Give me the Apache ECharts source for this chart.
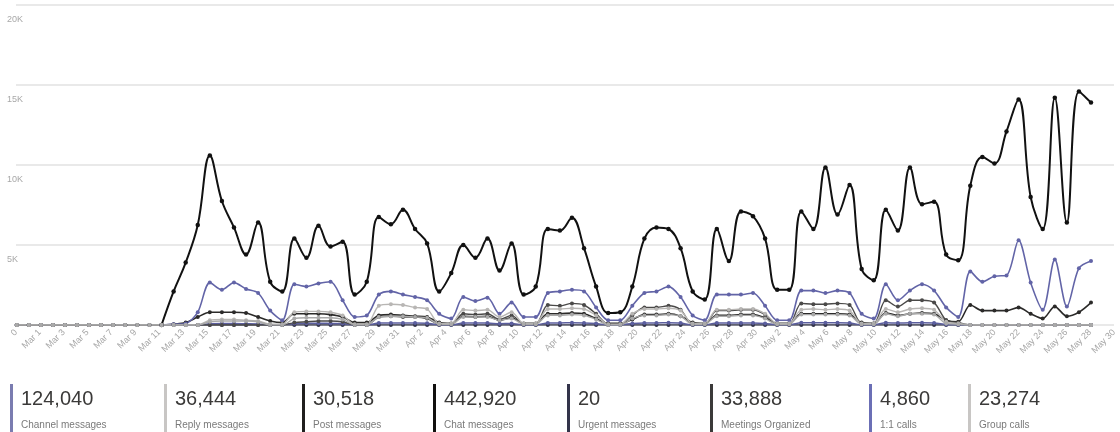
<!DOCTYPE html>
<html>
<head>
<meta charset="utf-8">
<script src="https://cdn.jsdelivr.net/npm/echarts@6/dist/echarts.min.js"></script>
<style>
html,body{margin:0;padding:0;background:#fff;}
#chart{width:1120px;height:432px;}
</style>
</head>
<body>
<div id="chart"></div>
<script>
// Data-point dates (one per point)
const dates = ['Feb 29','Mar 1','Mar 2','Mar 3','Mar 4','Mar 5','Mar 6','Mar 7','Mar 8','Mar 9','Mar 10','Mar 11','Mar 12','Mar 13','Mar 14','Mar 15','Mar 16','Mar 17','Mar 18','Mar 19','Mar 20','Mar 21','Mar 22','Mar 23','Mar 24','Mar 25','Mar 26','Mar 27','Mar 28','Mar 29','Mar 30','Mar 31','Apr 1','Apr 2','Apr 3','Apr 4','Apr 5','Apr 6','Apr 7','Apr 8','Apr 9','Apr 10','Apr 11','Apr 12','Apr 13','Apr 14','Apr 15','Apr 16','Apr 17','Apr 18','Apr 19','Apr 20','Apr 21','Apr 22','Apr 23','Apr 24','Apr 25','Apr 26','Apr 27','Apr 28','Apr 29','Apr 30','May 1','May 2','May 3','May 4','May 5','May 6','May 7','May 8','May 9','May 10','May 11','May 12','May 13','May 14','May 15','May 16','May 17','May 18','May 19','May 20','May 21','May 22','May 23','May 24','May 25','May 26','May 27','May 28'];

// Tick labels shown under the axis
const tickLabels = ['0','Mar 1','Mar 3','Mar 5','Mar 7','Mar 9','Mar 11','Mar 13','Mar 15','Mar 17','Mar 19','Mar 21','Mar 23','Mar 25','Mar 27','Mar 29','Mar 31','Apr 2','Apr 4','Apr 6','Apr 8','Apr 10','Apr 12','Apr 14','Apr 16','Apr 18','Apr 20','Apr 22','Apr 24','Apr 26','Apr 28','Apr 30','May 2','May 4','May 6','May 8','May 10','May 12','May 14','May 16','May 18','May 20','May 22','May 24','May 26','May 28','May 30'];

const yTicks = [0, 5000, 10000, 15000, 20000];

const chatMessages = [null,null,null,null,null,null,null,null,null,null,null,null,0,2100,3900,6250,10600,7750,6100,4400,6400,2700,2100,5400,4200,6200,4900,5200,1900,2700,6750,6300,7200,6000,5100,2100,3250,5000,4200,5400,3400,5100,1900,2400,6000,5900,6700,4800,2400,750,800,2400,5400,6100,6000,4800,2100,1600,6000,4000,7100,6800,5400,2200,2200,7100,6000,9850,6900,8750,3500,2800,7200,5900,9850,7550,7700,4400,4050,8700,10500,10100,12100,14100,8000,6000,14200,6400,14600,13900];

const channelMessages = [null,null,null,null,null,null,null,null,null,null,null,null,0,50,100,800,2650,2200,2650,2250,2000,900,300,2550,2400,2600,2700,1550,500,600,1900,2100,1900,1750,1550,700,400,1750,1500,1700,700,1400,500,500,2000,2100,2200,2100,1100,300,300,1200,2000,2100,2400,1750,600,300,1900,1900,1900,2000,1200,300,300,2150,2150,2000,2150,2000,700,400,2550,1550,2150,2550,2150,1100,500,3350,2700,3050,3100,5300,2650,950,4100,1150,3550,4000];

const meetingsOrganized = [0,0,0,0,0,0,0,0,0,0,0,0,0,50,150,500,800,800,800,750,500,250,150,700,700,700,650,500,150,150,600,650,600,550,500,150,100,550,500,550,300,450,100,100,700,700,750,700,400,100,100,350,650,650,700,550,150,100,600,600,650,650,450,100,100,700,700,700,700,650,150,100,750,600,700,750,700,300,200,1250,900,900,900,1100,700,400,1150,550,800,1400];

const postMessages = [0,0,0,0,0,0,0,0,0,0,0,0,0,0,0,0,0,0,0,0,0,0,0,150,200,250,250,200,0,0,500,550,500,500,400,50,50,700,650,700,350,600,50,50,1250,1200,1350,1250,700,50,50,600,1100,1100,1200,950,50,50,900,900,950,950,650,50,50,1350,1300,1300,1350,1250,100,100,1550,1150,1550,1550,1400,300,150,0,0,0,0,0,0,0,0,0,0,0];

const replyMessages = [0,0,0,0,0,0,0,0,0,0,0,0,0,0,0,0,300,350,350,300,250,50,50,800,850,850,800,600,50,50,1200,1300,1250,1100,1000,100,100,950,900,950,500,800,100,100,1000,1000,1050,1000,600,50,50,700,1000,1000,1050,900,100,100,950,950,1000,1000,700,100,100,950,1000,950,1000,900,100,100,1000,800,1000,1050,950,200,100,0,0,0,0,0,0,0,0,0,0,0];

const groupCalls = [0,0,0,0,0,0,0,0,0,0,0,0,0,0,0,0,200,250,250,250,200,0,0,400,450,450,450,350,0,0,500,550,550,500,450,50,50,500,500,500,300,400,50,50,600,600,650,600,350,0,0,400,600,600,650,550,50,50,550,550,600,600,400,50,50,650,650,650,650,600,50,50,700,550,700,700,650,100,50,0,0,0,0,0,0,0,0,0,0,0];

const oneOnOneCalls = [0,0,0,0,0,0,0,0,0,0,0,0,0,0,0,0,80,90,90,80,70,10,10,100,110,110,100,90,10,10,120,130,120,120,110,10,10,120,120,120,80,100,10,10,130,130,140,130,90,10,10,100,130,130,140,120,10,10,130,130,130,130,100,10,10,140,140,140,140,130,10,10,140,120,140,140,130,30,10,0,0,0,0,0,0,0,0,0,0,0];

const urgentMessages = [0,0,0,0,0,0,0,0,0,0,0,0,0,0,0,0,1,0,1,0,0,0,0,1,0,1,0,1,0,0,1,0,1,0,0,0,0,1,0,1,0,0,0,0,1,0,1,0,1,0,0,0,1,0,1,0,0,0,1,0,1,0,0,0,0,1,0,1,0,1,0,0,1,0,0,1,0,0,0,0,0,0,0,0,0,0,0,0,0,0];

// Summary tiles
const statNames = ['Channel messages','Reply messages','Post messages','Chat messages','Urgent messages','Meetings Organized','1:1 calls','Group calls'];
const statValues = [124040, 36444, 30518, 442920, 20, 33888, 4860, 23274];

// styles
const statColors = ['#7a7cb0','#c8c6c4','#201f1e','#11100f','#33344a','#3b3a39','#6b6fb5','#c8c6c4'];
const statX = [10, 164, 302, 433, 567, 710, 869, 968];

const chart = echarts.init(document.getElementById('chart'), null, {renderer:'canvas'});

function mkSeries(name, data, color, width, size, smooth) {
  return {
    name: name, type: 'line', data: data, xAxisIndex: 0, yAxisIndex: 0,
    smooth: smooth, symbol: 'circle', symbolSize: size, showSymbol: true,
    itemStyle: {color: color}, lineStyle: {color: color, width: width},
    emphasis: {disabled: true}, connectNulls: false
  };
}

const graphic = [];
for (let k = 0; k < statNames.length; k++) {
  graphic.push({type:'rect', x: statX[k], y: 384, shape:{x:0, y:0, width:3, height:48}, style:{fill: statColors[k]}});
  graphic.push({type:'text', x: statX[k] + 11, y: 399, style:{text: statValues[k].toLocaleString('en-US'), fontSize: 20, fontFamily: 'Liberation Sans, Arial, sans-serif', fill:'#3b3a39', verticalAlign:'middle'}});
  graphic.push({type:'text', x: statX[k] + 11, y: 425, style:{text: statNames[k], fontSize: 10, fontFamily: 'Liberation Sans, Arial, sans-serif', fill:'#7a7a7a', verticalAlign:'middle'}});
}

const option = {
  animation: false,
  backgroundColor: '#ffffff',
  grid: [
    {left: 16.7, right: 29, top: 5, bottom: 107, outerBoundsMode: 'none'},
    {left: 16, right: 6, top: 5, bottom: 107, outerBoundsMode: 'none'}
  ],
  xAxis: [
    {gridIndex: 0, type: 'category', data: dates, boundaryGap: false,
     axisLine:{show:false}, axisTick:{show:false}, axisLabel:{show:false}, splitLine:{show:false}},
    {gridIndex: 1, type: 'category', data: tickLabels, boundaryGap: false,
     axisLine:{show:false}, axisTick:{show:false}, splitLine:{show:false},
     axisLabel:{rotate:45, interval:0, fontSize:9, color:'#a6a6a6', margin:6, fontFamily:'Liberation Sans, Arial, sans-serif'}}
  ],
  yAxis: [
    {gridIndex: 0, type: 'value', min: yTicks[0], max: yTicks[yTicks.length-1], interval: yTicks[1]-yTicks[0], show: false},
    {gridIndex: 1, type: 'value', min: yTicks[0], max: yTicks[yTicks.length-1], interval: yTicks[1]-yTicks[0],
     axisLine:{show:false}, axisTick:{show:false},
     splitLine:{lineStyle:{color:'#e9e9e9', width:2}},
     axisLabel:{align:'left', margin:9, verticalAlign:'top', padding:[10,0,0,0], fontSize:9, color:'#a8a8a8',
       fontFamily:'Liberation Sans, Arial, sans-serif',
       formatter: function(v){ return v === 0 ? '' : (v/1000) + 'K'; }}}
  ],
  series: [
    mkSeries('Urgent messages', urgentMessages, '#33344a', 1.5, 4, 0.3),
    mkSeries('1:1 calls', oneOnOneCalls, '#5b5e9e', 1.5, 4, 0.3),
    mkSeries('Meetings Organized', meetingsOrganized, '#2b2a29', 1.6, 4, 0.3),
    mkSeries('Post messages', postMessages, '#4a4948', 1.4, 4, 0.3),
    mkSeries('Channel messages', channelMessages, '#6264a7', 1.6, 4, 0.3),
    mkSeries('Chat messages', chatMessages, '#111111', 2, 4.5, 0.4),
    mkSeries('Reply messages', replyMessages, '#b8b6b4', 1.4, 4, 0.3),
    mkSeries('Group calls', groupCalls, '#a9a9a9', 1.4, 4, 0.3)
  ],
  graphic: graphic
};
chart.setOption(option);
</script>
</body>
</html>
